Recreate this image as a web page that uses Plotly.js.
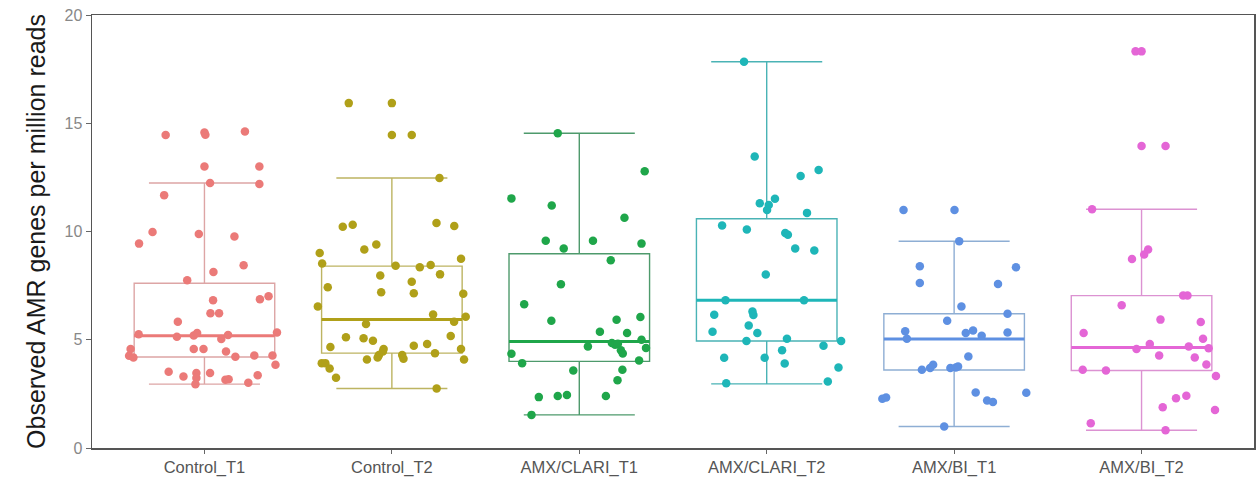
<!DOCTYPE html>
<html>
<head>
<meta charset="utf-8">
<script src="https://cdn.plot.ly/plotly-3.0.1.min.js"></script>
<style>html,body{margin:0;padding:0;background:#fff;}#chart{width:1256px;height:478px;}</style>
</head>
<body>
<div id="chart"></div>
<script>
// ---- Data ----
const categories = ["Control_T1", "Control_T2", "AMX/CLARI_T1", "AMX/CLARI_T2", "AMX/BI_T1", "AMX/BI_T2"];

// box statistics (lower whisker, Q1, median, Q3, upper whisker)
const lowerWhisker = [2.95, 2.75, 1.53, 2.96, 0.99, 0.82];
const q1Values     = [4.20, 4.38, 4.00, 4.94, 3.60, 3.58];
const medianValues = [5.19, 5.94, 4.92, 6.82, 5.03, 4.64];
const q3Values     = [7.61, 8.40, 8.97, 10.59, 6.20, 7.04];
const upperWhisker = [12.24, 12.47, 14.54, 17.84, 9.55, 11.03];

// observed values per group, and their horizontal jitter (category units) as seen in the picture
const controlT1 = [14.46,14.57,14.47,14.62,13.0,13.0,12.24,12.19,11.68,9.98,9.44,9.88,9.77,8.44,8.13,7.75,6.82,6.87,7.01,6.22,6.22,5.83,5.25,5.14,5.20,5.31,5.03,5.22,5.34,4.57,4.57,4.57,4.26,4.18,4.46,4.21,4.27,4.27,3.84,3.52,3.30,3.46,3.23,2.95,3.46,3.15,3.18,3.01,3.36];
const controlT1Jitter = [-0.207,0.0,0.005,0.216,0.0,0.293,0.03,0.293,-0.215,-0.277,-0.349,-0.03,0.16,0.209,0.048,-0.092,0.046,0.296,0.342,0.032,0.078,-0.142,-0.351,-0.147,-0.057,-0.039,0.09,0.126,0.387,-0.394,-0.057,-0.005,-0.402,-0.379,0.115,0.165,0.266,0.363,0.379,-0.191,-0.112,-0.043,-0.043,-0.048,0.03,0.112,0.129,0.234,0.284];

const controlT2 = [15.93,15.93,14.46,14.46,12.47,10.22,10.31,10.39,10.25,9.17,9.40,9.01,8.52,8.42,8.35,8.45,8.74,7.97,8.02,7.42,7.68,7.19,7.15,7.13,6.54,6.17,6.06,5.73,5.83,5.12,5.07,4.95,4.66,4.72,4.80,5.17,4.57,4.57,4.46,4.29,4.18,4.29,4.12,4.38,4.09,3.92,3.92,3.67,3.24,4.09,2.75];
const controlT2Jitter = [-0.230,0.0,0.0,0.106,0.254,-0.262,-0.209,0.238,0.333,-0.147,-0.083,-0.385,-0.372,0.020,0.149,0.207,0.369,-0.062,0.257,-0.342,0.106,-0.057,0.117,0.381,-0.395,0.220,0.394,-0.138,0.332,-0.245,-0.151,-0.101,-0.328,0.117,0.188,0.314,0.369,-0.044,-0.048,-0.069,-0.076,0.055,0.062,0.230,0.385,-0.374,-0.355,-0.332,-0.298,-0.133,0.239];

const clariT1 = [14.54,12.78,11.53,11.20,10.63,9.57,9.57,9.44,9.21,8.67,7.56,6.64,5.88,5.92,6.05,5.37,5.31,5.0,4.69,4.85,4.77,4.82,4.51,4.37,4.62,4.35,3.92,4.04,3.58,3.61,3.13,2.35,2.40,2.45,2.40,1.53];
const clariT1Jitter = [-0.115,0.349,-0.362,-0.147,0.241,-0.179,0.073,0.332,-0.083,0.168,-0.098,-0.294,-0.149,0.199,0.326,0.110,0.255,0.332,0.046,0.174,0.191,0.206,0.222,0.232,0.356,-0.362,-0.305,0.319,-0.032,0.230,0.204,-0.216,-0.115,-0.066,0.142,-0.255];

const clariT2 = [17.84,13.46,12.56,12.84,11.30,11.22,10.99,11.51,10.86,10.28,10.09,9.93,9.85,9.21,9.12,8.01,6.82,6.82,6.16,6.31,6.14,5.66,5.37,5.31,4.94,5.05,4.94,4.72,4.51,4.17,4.17,3.90,3.72,3.07,2.99];
const clariT2Jitter = [-0.121,-0.064,0.181,0.277,-0.037,0.011,0.002,0.044,0.215,-0.238,-0.106,0.099,0.113,0.152,0.254,-0.005,-0.220,0.199,-0.280,-0.076,-0.071,-0.096,-0.289,-0.050,-0.108,0.108,0.397,0.303,0.082,-0.227,-0.011,0.096,0.383,0.326,-0.216];

const biT1 = [10.99,10.99,9.55,8.40,8.35,7.62,7.58,6.54,6.20,5.88,5.39,5.05,5.31,5.43,5.19,5.33,4.23,3.61,3.70,3.84,3.69,3.72,3.76,2.27,2.33,2.56,2.19,2.13,2.55,0.99];
const biT1Jitter = [-0.270,0.002,0.027,-0.183,0.330,-0.183,0.234,0.039,0.285,-0.037,-0.261,-0.252,0.062,0.101,0.147,0.285,0.076,-0.172,-0.128,-0.112,-0.020,0.009,0.021,-0.383,-0.363,0.115,0.176,0.207,0.385,-0.053];

const biT2 = [18.32,18.32,13.95,13.95,11.03,9.17,8.94,8.73,7.04,7.04,6.59,5.93,5.82,5.31,5.05,4.80,4.57,4.69,4.61,4.27,4.18,3.86,3.61,3.58,3.33,2.41,2.30,1.88,1.76,1.14,0.82];
const biT2Jitter = [-0.032,0.0,0.0,0.128,-0.264,0.035,0.014,-0.051,0.222,0.245,-0.106,0.101,0.316,-0.309,0.328,0.044,-0.027,0.252,0.358,0.094,0.284,0.346,-0.314,-0.190,0.397,0.239,0.184,0.113,0.392,-0.271,0.128];

const yTickValues = [0, 5, 10, 15, 20];
const yTitle = "Observed AMR genes per million reads";

// ---- Styling ----
const pointColors = ["#EB7A78", "#B0A019", "#1FA64A", "#1EB6B8", "#5E90E2", "#E466D6"];
const boxColors   = ["#DDA5A5", "#BDB462", "#4E9A6C", "#4AB3B5", "#8EAED4", "#DC92D2"];
const BOX_WIDTH = 0.75;

const groups = [
  [controlT1, controlT1Jitter], [controlT2, controlT2Jitter],
  [clariT1, clariT1Jitter], [clariT2, clariT2Jitter],
  [biT1, biT1Jitter], [biT2, biT2Jitter]
];

const traces = [];
// boxes
categories.forEach((c, i) => {
  traces.push({
    type: "box",
    name: c,
    x: [i],
    q1: [q1Values[i]], median: [medianValues[i]], q3: [q3Values[i]],
    lowerfence: [lowerWhisker[i]], upperfence: [upperWhisker[i]],
    boxpoints: false,
    width: BOX_WIDTH,
    whiskerwidth: 0.79,
    line: { color: boxColors[i], width: 1.4 },
    fillcolor: "rgba(0,0,0,0)",
    hoverinfo: "skip",
    showlegend: false
  });
});
// thick medians
categories.forEach((c, i) => {
  traces.push({
    type: "scatter", mode: "lines",
    x: [i - BOX_WIDTH / 2, i + BOX_WIDTH / 2],
    y: [medianValues[i], medianValues[i]],
    line: { color: pointColors[i], width: 3 },
    hoverinfo: "skip", showlegend: false
  });
});
// jittered points
groups.forEach(([vals, jit], i) => {
  traces.push({
    type: "scatter", mode: "markers",
    name: categories[i],
    x: vals.map((v, k) => i + jit[k]),
    y: vals,
    marker: { color: pointColors[i], size: 8.5, line: { width: 0 } },
    showlegend: false
  });
});

const layout = {
  width: 1256, height: 478,
  margin: { l: 92, r: 2, t: 15, b: 30 },
  paper_bgcolor: "#fff", plot_bgcolor: "#fff",
  font: { family: "Liberation Sans, Arial, sans-serif" },
  showlegend: false,
  xaxis: {
    range: [-0.6, 5.6],
    tickvals: categories.map((c, i) => i),
    ticktext: categories,
    showgrid: false, zeroline: false,
    showline: true, mirror: true, linecolor: "#555", linewidth: 1.5,
    ticks: "outside", ticklen: 4, tickcolor: "#666", tickwidth: 1,
    tickfont: { size: 16.5, color: "#555" }
  },
  yaxis: {
    range: [0, 20],
    tickvals: yTickValues,
    showgrid: false, zeroline: false,
    showline: true, mirror: true, linecolor: "#555", linewidth: 1.5,
    ticks: "outside", ticklen: 5, tickcolor: "#666", tickwidth: 1,
    tickfont: { size: 16, color: "#888" },
    title: { text: yTitle, font: { size: 25, color: "#1a1a1a" }, standoff: 12 }
  }
};

Plotly.newPlot("chart", traces, layout, { staticPlot: true, displayModeBar: false });
</script>
</body>
</html>
